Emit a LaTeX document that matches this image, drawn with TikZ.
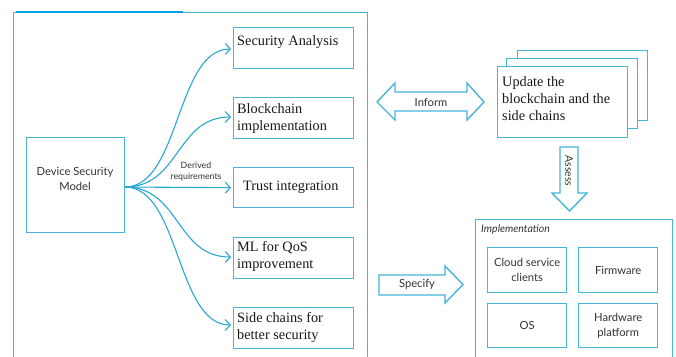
\documentclass[tikz,border=0pt]{standalone}
\usepackage{fontspec}
\setmainfont{Liberation Serif}
\newfontfamily\lato{Lato}
\usetikzlibrary{arrows.meta}
\definecolor{lblue}{HTML}{45B6DA}
\definecolor{dblue}{HTML}{00A3E6}
\definecolor{ablue}{HTML}{2AA8D2}
\definecolor{txt}{HTML}{333333}
\begin{document}
\begin{tikzpicture}[x=1pt,y=-1pt,
  box/.style={draw=lblue, line width=1.4pt, fill=white, anchor=north west, inner sep=0pt},
  serif/.style={font=\fontsize{14.3}{17}\selectfont, align=left, text=black!90, inner sep=0pt, anchor=west},
  sans/.style={font=\lato\fontsize{11.2}{15}\selectfont, align=center, text=txt},
  conn/.style={draw=ablue, line width=1.1pt, -{Straight Barb[length=5pt,width=11pt]}},
  blk/.style={draw=lblue, line width=1.4pt, fill=white, line join=miter}]
\useasboundingbox (0,0) rectangle (676,356);
\fill[white] (0,0) rectangle (676,356);
% outer frame
\node[box, minimum width=354pt, minimum height=360pt] (outer) at (13,12) {};
\draw[dblue, line width=1.8pt] (16,12) -- (183,12);
% left model box
\node[box, minimum width=98pt, minimum height=95pt] (dsm) at (26,137) {};
\node[sans] (dsmT) at (75,179) {Device Security\\Model};
% right boxes
\node[box, minimum width=120pt, minimum height=41pt] (sa) at (233,27) {};
\node[box, minimum width=120pt, minimum height=41pt] (bc) at (233,97) {};
\node[box, minimum width=120pt, minimum height=40pt] (tr) at (233,167) {};
\node[box, minimum width=120pt, minimum height=41pt] (ml) at (233,237) {};
\node[box, minimum width=120pt, minimum height=41pt] (sc) at (233,307) {};
\node[serif] (saT) at (237,42) {Security Analysis};
\node[serif] (bcT) at (237,118.5) {Blockchain\\implementation};
\node[serif] (trT) at (243,187) {Trust integration};
\node[serif] (mlT) at (237,256.5) {ML for QoS\\improvement};
\node[serif] (scT) at (237,327.5) {Side chains for\\better security};
% connectors
\coordinate (o) at (125,187);
\draw[conn] (o) .. controls +(55,0) and +(-55,0) .. ([xshift=-2pt]sa.west |- 0,49);
\draw[conn] (o) .. controls +(55,0) and +(-55,0) .. ([xshift=-2pt]bc.west |- 0,117);
\draw[conn] (o) -- ([xshift=-2pt]tr.west);
\draw[conn] (o) .. controls +(55,0) and +(-55,0) .. ([xshift=-2pt]ml.west |- 0,257);
\draw[conn] (o) .. controls +(55,0) and +(-55,0) .. ([xshift=-2pt]sc.west |- 0,325);
\node[sans, font=\lato\fontsize{8.8}{11}\selectfont] (der) at (196,171.5) {Derived\\requirements};
% stacked update boxes
\node[box, minimum width=130pt, minimum height=70pt] (up3) at (517,50) {};
\node[box, minimum width=131pt, minimum height=70pt] (up2) at (506,58) {};
\node[box, minimum width=130pt, minimum height=71pt] (up1) at (497,66) {};
\node[serif, anchor=west] (upT) at (502,99) {Update the\\blockchain and the\\side chains};
% inform double arrow
\draw[blk] (377,102) -- (395,83) -- (395,92) -- (467,92) -- (467,83) -- (484,102) -- (467,120) -- (467,111) -- (395,111) -- (395,120) -- cycle;
\node[sans] (inf) at (431,102) {Inform};
% assess arrow
\draw[blk] (560,147) -- (578,147) -- (578,193) -- (587,193) -- (569.5,211) -- (552,193) -- (560,193) -- cycle;
\node[sans, rotate=-90, font=\lato\fontsize{10.5}{12}\selectfont] (ass) at (569,171) {Assess};
% specify arrow
\draw[blk] (379,275) -- (445,275) -- (445,266) -- (463,284.5) -- (445,303) -- (445,295) -- (379,295) -- cycle;
\node[sans] (spec) at (417,284.5) {Specify};
% implementation
\node[box, minimum width=197pt, minimum height=150pt] (impl) at (475,219) {};
\node[sans, anchor=west, inner sep=0pt, font=\lato\itshape\fontsize{10.5}{12}\selectfont] (implT) at (481,230) {Implementation};
\node[box, minimum width=79pt, minimum height=45pt] (cl) at (487,247) {};
\node[box, minimum width=79pt, minimum height=45pt] (fw) at (578,247) {};
\node[box, minimum width=79pt, minimum height=44pt] (os) at (487,303) {};
\node[box, minimum width=79pt, minimum height=44pt] (hw) at (578,303) {};
\node[sans] at (cl.center) {Cloud service\\clients};
\node[sans] at (fw.center) {Firmware};
\node[sans] at (os.center) {OS};
\node[sans] at (hw.center) {Hardware\\platform};
\end{tikzpicture}
\end{document}
